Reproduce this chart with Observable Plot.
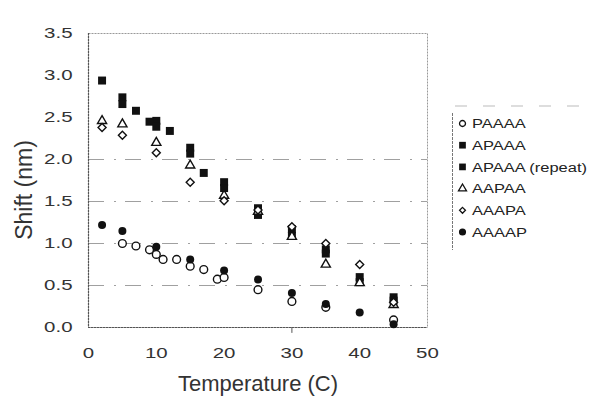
<!DOCTYPE html>
<html><head><meta charset="utf-8">
<script src="https://cdn.jsdelivr.net/npm/d3@7"></script>
<script src="https://cdn.jsdelivr.net/npm/@observablehq/plot@0.6"></script>
<style>
body{margin:0;background:#fff}
svg{font-family:"Liberation Sans",Arial,Helvetica,sans-serif}
</style>
</head><body><div id="chart"></div>
<script>
// Series (temperature in C, shift in nm)
const seriesNames = ["PAAAA","APAAA","APAAA (repeat)","AAPAA","AAAPA","AAAAP"];

const paaaaT = [5,7,9,10,11,13,15,17,19,20,25,30,35,45];
const paaaaV = [1.00,0.97,0.925,0.87,0.81,0.81,0.73,0.69,0.575,0.595,0.45,0.31,0.24,0.09];

const apaaaT = [2,5,10,15,20,25,30,35,40,45];
const apaaaV = [2.94,2.74,2.46,2.14,1.73,1.42,1.17,0.93,0.60,0.36];

const apaaaRepT = [5,7,9,10,12,15,17,20,25,30,35,40,45];
const apaaaRepV = [2.66,2.58,2.45,2.39,2.34,2.07,1.84,1.66,1.34,1.09,0.88,0.54,0.32];

const aapaaT = [2,5,10,15,20,25,30,35,40,45];
const aapaaV = [2.46,2.42,2.20,1.93,1.57,1.38,1.08,0.75,0.53,0.27];

const aaapaT = [2,5,10,15,20,25,30,35,40,45];
const aaapaV = [2.38,2.29,2.08,1.73,1.51,1.40,1.20,1.00,0.75,0.30];

const aaaapT = [2,5,10,15,20,25,30,35,40,45];
const aaaapV = [1.22,1.15,0.96,0.81,0.68,0.57,0.41,0.28,0.18,0.04];

const xTicks = [0,10,20,30,40,50];
const yTicks = [0,0.5,1,1.5,2,2.5,3,3.5];
const gridValues = [0.5,1,1.5,2];

const toRows = (name, ts, vs) => ts.map((t,i) => ({series:name, t, v:vs[i]}));
const rows = [
  ...toRows("PAAAA", paaaaT, paaaaV),
  ...toRows("APAAA", apaaaT, apaaaV),
  ...toRows("APAAA (repeat)", apaaaRepT, apaaaRepV),
  ...toRows("AAPAA", aapaaT, aapaaV),
  ...toRows("AAAPA", aaapaT, aaapaV),
  ...toRows("AAAAP", aaaapT, aaaapV)
];
const of = s => rows.filter(d => d.series === s);

const styles = {
  "PAAAA": {symbol:"circle", r:3.9, fill:"white", stroke:"#111", strokeWidth:1.4},
  "APAAA": {symbol:"square", r:4.5, fill:"#111", stroke:"none"},
  "APAAA (repeat)": {symbol:"square", r:4.5, fill:"#111", stroke:"none"},
  "AAPAA": {symbol:"triangle", r:3.4, fill:"white", stroke:"#111", strokeWidth:1.4},
  "AAAPA": {symbol:"diamond2", r:3.6, fill:"white", stroke:"#111", strokeWidth:1.4},
  "AAAAP": {symbol:"circle", r:4.0, fill:"#111", stroke:"none"}
};

const W = 598, H = 401;
const plot = Plot.plot({
  width: W, height: H,
  marginLeft: 88, marginRight: 171, marginTop: 33, marginBottom: 74,
  x: {domain:[0,50]},
  y: {domain:[0,3.5]},
  style: {background:"white", color:"#333"},
  marks: [
    Plot.ruleY(gridValues, {stroke:"#a0a0a0", strokeWidth:1.2, strokeDasharray:"16,10,2,9"}),
    Plot.frame({stroke:"#999", strokeWidth:1, strokeDasharray:"2,1"}),
    Plot.ruleX([0], {stroke:"#555", strokeWidth:1.2, strokeDasharray:"2,1"}),
    Plot.ruleY([0], {stroke:"#555", strokeWidth:1.2, strokeDasharray:"2,1"}),
    Plot.ruleX([30], {y1:0, y2:-0.07, stroke:"#555"}),
    Plot.axisX({ticks:xTicks, tickSize:0, tickPadding:19, fontSize:15.5, label:null, fill:"#333"}),
    Plot.axisY({ticks:yTicks, tickSize:0, tickPadding:16, fontSize:15.5, label:null, tickFormat:d3.format(".1f"), fill:"#333"}),
    ...seriesNames.map(s => Plot.dot(of(s), {x:"t", y:"v", ...styles[s]}))
  ]
});
document.getElementById("chart").append(plot);

const svg = d3.select(plot);
// widen tick label glyphs like the reference's extended face
svg.selectAll('g[aria-label="x-axis tick label"] text, g[aria-label="y-axis tick label"] text').each(function() {
  const el = d3.select(this);
  let tr = el.attr("transform");
  if (!tr) {
    const x = +el.attr("x") || 0, y = +el.attr("y") || 0;
    el.attr("x", null).attr("y", null);
    tr = `translate(${x},${y})`;
  }
  el.attr("transform", tr + " scale(1.32,1)");
});

// axis titles
svg.append("text").attr("x", 258).attr("y", 391).attr("text-anchor","middle")
  .attr("font-size", 22).attr("fill","#333").text("Temperature (C)");
svg.append("text").attr("transform","translate(32,190) rotate(-90)").attr("text-anchor","middle")
  .attr("font-size", 23).attr("fill","#333").text("Shift (nm)");

// legend
const lg = svg.append("g").attr("text-anchor","start");
lg.append("line").attr("x1",452.5).attr("x2",452.5).attr("y1",113).attr("y2",250)
  .attr("stroke","#777").attr("stroke-dasharray","3,1");
lg.append("line").attr("x1",455).attr("x2",590).attr("y1",106).attr("y2",106)
  .attr("stroke","#bbb").attr("stroke-dasharray","12,16");
const legendSym = {
  "PAAAA": {type:d3.symbolCircle, size:28, fill:"white", stroke:"#111"},
  "APAAA": {type:d3.symbolSquare, size:45, fill:"#111", stroke:"none"},
  "APAAA (repeat)": {type:d3.symbolSquare, size:45, fill:"#111", stroke:"none"},
  "AAPAA": {type:d3.symbolTriangle, size:28, fill:"white", stroke:"#111"},
  "AAAPA": {type:d3.symbolDiamond2, size:22, fill:"white", stroke:"#111"},
  "AAAAP": {type:d3.symbolCircle, size:40, fill:"#111", stroke:"none"}
};
seriesNames.forEach((s,i) => {
  const y = 123.5 + i*21.7;
  const st = legendSym[s];
  lg.append("path").attr("transform",`translate(462.5,${y})`)
    .attr("d", d3.symbol(st.type, st.size)()).attr("fill", st.fill).attr("stroke", st.stroke).attr("stroke-width",1.3);
  lg.append("text").attr("transform",`translate(472,${y}) scale(1.22,1)`).attr("dy","0.36em")
    .attr("font-size",13.5).attr("fill","#222").text(s);
});
</script>
</body></html>
